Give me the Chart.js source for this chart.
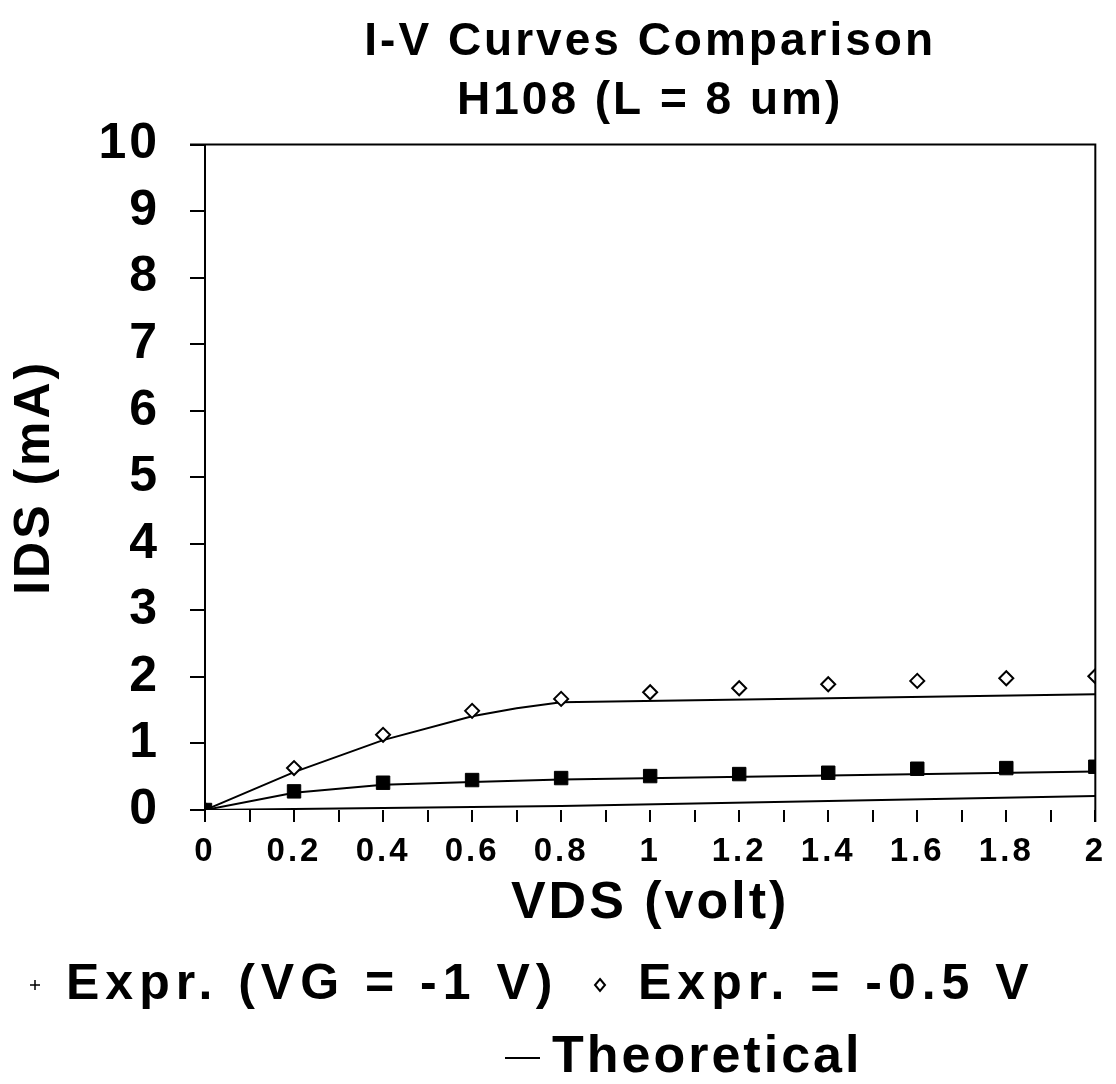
<!DOCTYPE html>
<html lang="en">
<head>
  <meta charset="UTF-8">
  <title>I-V Curves Comparison</title>
  <script src="https://cdn.jsdelivr.net/npm/chart.js"></script>
  <style>
    body { margin: 0; background: #fff; }
    #wrap { width: 1116px; height: 1084px; }
  </style>
</head>
<body>
  <div id="wrap"><canvas id="chart"></canvas></div>

  <script>
    // measured points (VDS in volt, IDS in mA)
    const vds = [0, 0.2, 0.4, 0.6, 0.8, 1.0, 1.2, 1.4, 1.6, 1.8, 2.0];
    const idsVg1 = [0, 0.28, 0.41, 0.45, 0.48, 0.51, 0.54, 0.56, 0.62, 0.63, 0.65];
    const idsVg05 = [0, 0.63, 1.13, 1.49, 1.67, 1.77, 1.83, 1.89, 1.94, 1.98, 2.01];

    // theoretical curves
    const theoVg05X = [0, 0.2, 0.4, 0.6, 0.7, 0.8, 2.0];
    const theoVg05Y = [0, 0.57, 1.05, 1.41, 1.53, 1.62, 1.74];
    const theoVg1X = [0, 0.2, 0.4, 0.6, 0.8, 2.0];
    const theoVg1Y = [0, 0.26, 0.38, 0.42, 0.46, 0.58];
    const theoLowX = [0, 0.8, 2.0];
    const theoLowY = [0, 0.06, 0.21];

    const xTickLabels = ["0", "0.2", "0.4", "0.6", "0.8", "1", "1.2", "1.4", "1.6", "1.8", "2"];
    const yTickLabels = ["0", "1", "2", "3", "4", "5", "6", "7", "8", "9", "10"];

    const FONT = "'Liberation Sans', Arial, sans-serif";

    function pts(xs, ys) {
      return xs.map((x, i) => ({ x: x, y: ys[i] }));
    }

    function theo(xs, ys) {
      return {
        label: "Theoretical",
        data: pts(xs, ys),
        showLine: true,
        borderColor: "#000",
        borderWidth: 2,
        pointRadius: 0,
        fill: false
      };
    }

    // the old plot uses widely spaced lettering
    const spacing = {
      id: "spacing",
      beforeLayout(chart) { chart.ctx.letterSpacing = "3px"; },
      beforeDraw(chart) { chart.ctx.letterSpacing = "3px"; }
    };

    // top and right frame lines
    const frame = {
      id: "frame",
      afterDatasetsDraw(chart) {
        const { ctx, chartArea: a } = chart;
        ctx.save();
        ctx.strokeStyle = "#000";
        ctx.lineWidth = 2;
        ctx.beginPath();
        ctx.moveTo(a.left - 15, a.top);
        ctx.lineTo(a.right, a.top);
        ctx.lineTo(a.right, a.bottom + 12);
        ctx.stroke();
        ctx.restore();
      }
    };

    // legend laid out like the original, two rows
    const legendRows = {
      id: "legendRows",
      afterDraw(chart) {
        const ctx = chart.ctx;
        ctx.save();
        ctx.fillStyle = "#000";
        ctx.strokeStyle = "#000";
        ctx.textBaseline = "middle";
        ctx.font = "bold 50px " + FONT;
        ctx.letterSpacing = "6px";

        const y1 = 985;
        // plus marker
        ctx.lineWidth = 1.5;
        ctx.beginPath();
        ctx.moveTo(30, y1); ctx.lineTo(40, y1);
        ctx.moveTo(35, y1 - 5); ctx.lineTo(35, y1 + 5);
        ctx.stroke();
        ctx.fillText("Expr. (VG = -1 V)", 66, y1);
        // diamond marker
        ctx.lineWidth = 2;
        ctx.beginPath();
        ctx.moveTo(600, y1 - 6); ctx.lineTo(605, y1); ctx.lineTo(600, y1 + 6); ctx.lineTo(595, y1);
        ctx.closePath();
        ctx.stroke();
        ctx.fillText("Expr. = -0.5 V", 638, y1);

        const y2 = 1058;
        ctx.lineWidth = 2;
        ctx.beginPath();
        ctx.moveTo(505, y2); ctx.lineTo(540, y2);
        ctx.stroke();
        ctx.font = "bold 52px " + FONT;
        ctx.letterSpacing = "3px";
        ctx.fillText("Theoretical", 552, y2);
        ctx.restore();
      }
    };

    new Chart(document.getElementById("chart"), {
      type: "scatter",
      data: {
        datasets: [
          {
            label: "Expr. (VG = -1 V)",
            data: pts(vds, idsVg1),
            pointStyle: "rect",
            pointRadius: 9.5,
            pointBackgroundColor: "#000",
            pointBorderColor: "#000",
            showLine: false
          },
          {
            label: "Expr. = -0.5 V",
            data: pts(vds, idsVg05),
            pointStyle: "rectRot",
            pointRadius: 7,
            pointBackgroundColor: "#fff",
            pointBorderColor: "#000",
            pointBorderWidth: 2,
            showLine: false
          },
          theo(theoVg05X, theoVg05Y),
          theo(theoVg1X, theoVg1Y),
          theo(theoLowX, theoLowY)
        ]
      },
      options: {
        responsive: true,
        maintainAspectRatio: false,
        animation: false,
        layout: { padding: { left: 5, right: 18, top: 0, bottom: 149 } },
        plugins: {
          legend: { display: false },
          tooltip: { enabled: false },
          title: {
            display: true,
            fullSize: false,
            text: ["I-V Curves Comparison", "H108 (L = 8 um)"],
            color: "#000",
            font: { family: FONT, size: 46, weight: "bold", lineHeight: 1.3 },
            padding: { top: 12, bottom: 13 }
          }
        },
        scales: {
          x: {
            type: "linear",
            min: 0,
            max: 2,
            afterFit: s => { s.height = 125; },
            afterBuildTicks: s => {
              s.ticks = [];
              for (let i = 0; i <= 20; i++) s.ticks.push({ value: i / 10 });
            },
            ticks: {
              autoSkip: false,
              maxRotation: 0,
              padding: 10,
              color: "#000",
              font: { family: FONT, size: 33, weight: "bold" },
              callback: (v, i) => (i % 2 === 0 ? xTickLabels[i / 2] : "")
            },
            grid: { drawOnChartArea: false, color: "#000", lineWidth: 2, tickLength: 12 },
            border: { display: false },
            title: {
              display: true,
              text: "VDS (volt)",
              color: "#000",
              font: { family: FONT, size: 52, weight: "bold", lineHeight: 1.2 },
              padding: { top: 0, bottom: 0 }
            }
          },
          y: {
            min: 0,
            max: 10,
            afterFit: s => { s.width = 200; },
            ticks: {
              stepSize: 1,
              padding: 30,
              color: "#000",
              font: { family: FONT, size: 50, weight: "bold" },
              callback: (v, i) => yTickLabels[i]
            },
            grid: { drawOnChartArea: false, color: "#000", lineWidth: 2, tickLength: 15 },
            border: { display: true, color: "#000", width: 2 },
            title: {
              display: true,
              text: "IDS (mA)",
              color: "#000",
              font: { family: FONT, size: 50, weight: "bold", lineHeight: 1.2 },
              padding: { top: 0, bottom: 0 }
            }
          }
        }
      },
      plugins: [spacing, frame, legendRows]
    });
  </script>
</body>
</html>
